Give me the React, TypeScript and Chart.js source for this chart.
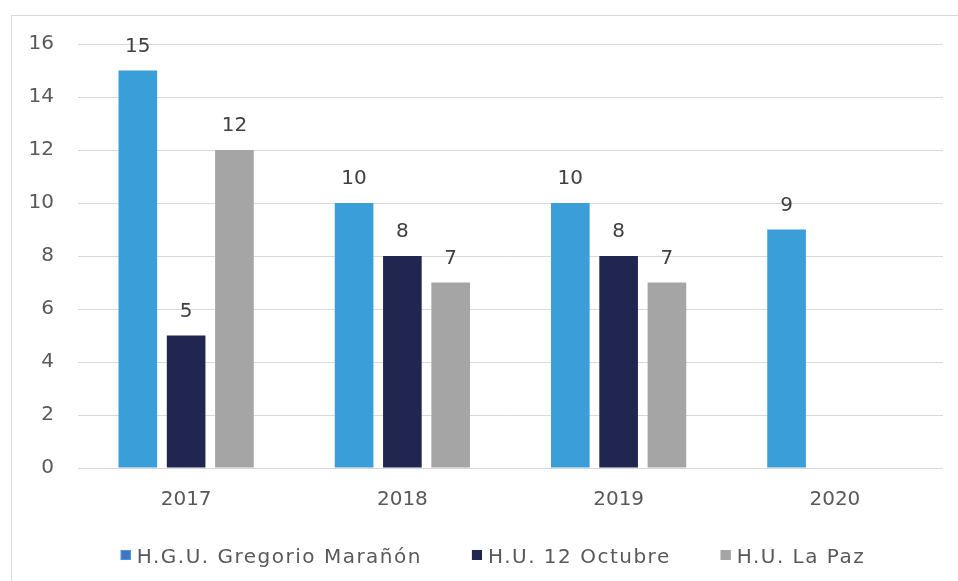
import React, { useEffect, useRef } from "react";
import { Chart, registerables } from "chart.js";

Chart.register(...registerables);

const categories: string[] = ["2017", "2018", "2019", "2020"];
const seriesNames: string[] = ["H.G.U. Gregorio Marañón", "H.U. 12 Octubre", "H.U. La Paz"];
const maranonValues: (number | null)[] = [15, 10, 10, 9];
const octubreValues: (number | null)[] = [5, 8, 8, null];
const laPazValues: (number | null)[] = [12, 7, 7, null];
const yMin = 0;
const yMax = 16;
const yStep = 2;

const seriesColors = ["#3A9ED8", "#212651", "#A5A5A5"];
const legendFill = ["#4472C4", "#212651", "#A5A5A5"];
const legendStroke = ["#3A9ED8", "#212651", "#A5A5A5"];
const FONT = "'DejaVu Sans', sans-serif";
const FONT_SIZE = 20;

const W = 958;
const H = 581;

const dataLabelPlugin = {
  id: "dataLabels",
  afterDatasetsDraw(chart: any) {
    const ctx = chart.ctx;
    ctx.save();
    ctx.font = `${FONT_SIZE}px ${FONT}`;
    ctx.fillStyle = "#404040";
    ctx.textAlign = "center";
    ctx.textBaseline = "alphabetic";
    chart.data.datasets.forEach((ds: any, i: number) => {
      const meta = chart.getDatasetMeta(i);
      meta.data.forEach((bar: any, j: number) => {
        const v = ds.data[j];
        if (v === null || v === undefined) return;
        ctx.fillText(String(v), bar.x, bar.y - 19);
      });
    });
    ctx.restore();
  },
};

const legendPlugin = {
  id: "customLegend",
  afterDraw(chart: any) {
    const ctx = chart.ctx;
    ctx.save();
    ctx.font = `${FONT_SIZE}px ${FONT}`;
    try {
      (ctx as any).letterSpacing = "1.5px";
    } catch (e) {}
    const box = 10;
    const gapBoxText = 6;
    const gapItems = 50;
    const widths = seriesNames.map((n) => ctx.measureText(n).width);
    const total =
      widths.reduce((a, w) => a + box + gapBoxText + w, 0) + gapItems * (seriesNames.length - 1);
    const centerX = 493;
    const cy = 555;
    let x = centerX - total / 2;
    seriesNames.forEach((name, i) => {
      ctx.fillStyle = legendFill[i];
      ctx.fillRect(x, cy - box / 2, box, box);
      ctx.strokeStyle = legendStroke[i];
      ctx.lineWidth = 1;
      ctx.strokeRect(x + 0.5, cy - box / 2 + 0.5, box - 1, box - 1);
      x += box + gapBoxText;
      ctx.fillStyle = "#595959";
      ctx.textAlign = "left";
      ctx.textBaseline = "alphabetic";
      ctx.fillText(name, x, cy + 8);
      x += widths[i] + gapItems;
    });
    ctx.restore();
  },
};

export default function App() {
  const canvasRef = useRef<HTMLCanvasElement | null>(null);

  useEffect(() => {
    const canvas = canvasRef.current;
    if (!canvas) return;
    const chart = new Chart(canvas, {
      type: "bar",
      data: {
        labels: categories,
        datasets: [
          { label: seriesNames[0], data: maranonValues, backgroundColor: seriesColors[0] },
          { label: seriesNames[1], data: octubreValues, backgroundColor: seriesColors[1] },
          { label: seriesNames[2], data: laPazValues, backgroundColor: seriesColors[2] },
        ],
      },
      options: {
        responsive: false,
        animation: false,
        devicePixelRatio: 1,
        layout: { padding: { left: 0, right: 15, top: 44, bottom: 0 } },
        datasets: {
          bar: { categoryPercentage: 0.67, barPercentage: 0.8 },
        },
        plugins: {
          legend: { display: false },
          tooltip: { enabled: false },
          title: { display: false },
        },
        scales: {
          x: {
            grid: { display: false },
            border: { display: false },
            ticks: {
              color: "#595959",
              font: { family: FONT, size: FONT_SIZE },
              padding: 12,
            },
            afterFit(scale: any) {
              scale.height = 113;
            },
          },
          y: {
            min: yMin,
            max: yMax,
            grid: { color: "#D9D9D9", lineWidth: 1, drawTicks: false },
            border: { display: false },
            ticks: {
              stepSize: yStep,
              color: "#595959",
              font: { family: FONT, size: FONT_SIZE },
              padding: 24,
            },
            afterFit(scale: any) {
              scale.width = 78;
            },
          },
        },
      },
      plugins: [dataLabelPlugin, legendPlugin],
    });
    return () => chart.destroy();
  }, []);

  return (
    <div
      style={{
        position: "fixed",
        left: 0,
        top: 0,
        width: W,
        height: H,
        overflow: "hidden",
        background: "#ffffff",
      }}
    >
      <div
        style={{
          position: "absolute",
          left: 11,
          top: 15,
          width: W,
          height: H,
          border: "1px solid #D9D9D9",
          boxSizing: "border-box",
        }}
      />
      <canvas
        ref={canvasRef}
        width={W}
        height={H}
        style={{ position: "absolute", left: 0, top: 0, width: W, height: H }}
      />
    </div>
  );
}
